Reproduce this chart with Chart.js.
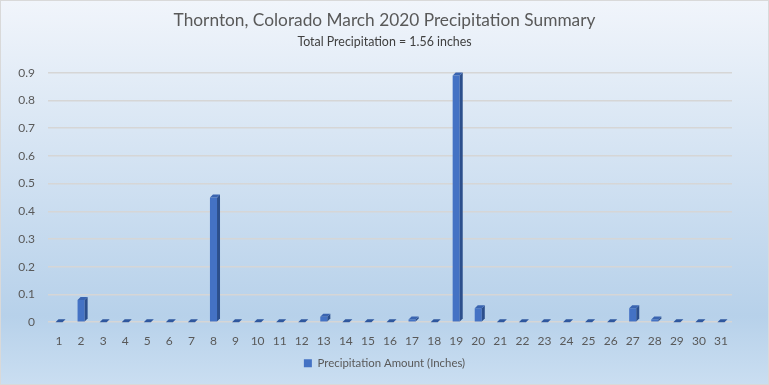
<!DOCTYPE html>
<html>
<head>
<meta charset="utf-8">
<script src="https://cdn.jsdelivr.net/npm/chart.js@4.4.0/dist/chart.umd.min.js"></script>
<style>
html,body{margin:0;padding:0;background:#fff;}
#wrap{width:769px;height:385px;position:relative;}
</style>
</head>
<body>
<div id="wrap"><canvas id="c" width="769" height="385"></canvas></div>
<script>
const days = ["1","2","3","4","5","6","7","8","9","10","11","12","13","14","15","16","17","18","19","20","21","22","23","24","25","26","27","28","29","30","31"];
const precipitation = [0,0.08,0,0,0,0,0,0.45,0,0,0,0,0.02,0,0,0,0.01,0,0.89,0.05,0,0,0,0,0,0,0.05,0.01,0,0,0];
const seriesName = "Precipitation Amount (Inches)";
const titleText = "Thornton, Colorado March 2020 Precipitation Summary";
const subtitleText = "Total Precipitation = 1.56 inches";

const bgPlugin = {
  id: 'bg',
  beforeDraw(chart) {
    const ctx = chart.ctx;
    const w = chart.width, h = chart.height;
    const g = ctx.createLinearGradient(0, 0, 0, h);
    g.addColorStop(0, '#f1f5fb');
    g.addColorStop(0.82, '#b7d1ea');
    g.addColorStop(1, '#cadef1');
    ctx.save();
    ctx.fillStyle = g;
    ctx.fillRect(0, 0, w, h);
    ctx.strokeStyle = '#d9d9d9';
    ctx.lineWidth = 1;
    ctx.strokeRect(0.5, 0.5, w - 1, h - 1);
    ctx.restore();
  }
};

const bar3d = {
  id: 'bar3d',
  afterDatasetsDraw(chart) {
    const ctx = chart.ctx;
    const meta = chart.getDatasetMeta(0);
    const d = 3;
    ctx.save();
    meta.data.forEach(el => {
      const p = el.getProps(['x','y','base','width'], true);
      const l = p.x - p.width / 2, r = p.x + p.width / 2;
      const top = Math.min(p.y, p.base), bot = p.base;
      if (bot - top > 0.5) {
        ctx.fillStyle = '#2c4f8c';
        ctx.beginPath();
        ctx.moveTo(r, bot);
        ctx.lineTo(r + d, bot - d);
        ctx.lineTo(r + d, top - d);
        ctx.lineTo(r, top);
        ctx.closePath();
        ctx.fill();
      }
      ctx.fillStyle = bot - top > 0.5 ? '#3a64b0' : '#2f579e';
      ctx.beginPath();
      ctx.moveTo(l, top);
      ctx.lineTo(l + d, top - d);
      ctx.lineTo(r + d, top - d);
      ctx.lineTo(r, top);
      ctx.closePath();
      ctx.fill();
    });
    ctx.restore();
  }
};

new Chart(document.getElementById('c'), {
  type: 'bar',
  data: {
    labels: days,
    datasets: [{
      label: seriesName,
      data: precipitation,
      backgroundColor: '#4472c4',
      borderWidth: 0,
      categoryPercentage: 1,
      barPercentage: 0.32
    }]
  },
  options: {
    responsive: false,
    animation: false,
    layout: { padding: { left: 0, right: 0, top: 0, bottom: 6 } },
    plugins: {
      title: {
        display: true,
        text: titleText,
        color: '#595959',
        font: { family: 'Lato', size: 17.3, weight: 'normal' },
        padding: { top: 10, bottom: 4 }
      },
      subtitle: {
        display: true,
        text: subtitleText,
        color: '#404040',
        font: { family: 'Lato', size: 12.4, weight: 'normal' },
        padding: { top: 0, bottom: 23 }
      },
      legend: {
        position: 'bottom',
        labels: {
          color: '#595959',
          font: { family: 'Lato', size: 11.4 },
          boxWidth: 8,
          boxHeight: 8,
          padding: 5
        }
      },
      tooltip: { enabled: false }
    },
    scales: {
      x: {
        grid: { display: false },
        border: { display: false },
        ticks: { color: '#595959', font: { family: 'Lato', size: 12 }, padding: 4, maxRotation: 0, autoSkip: false }
      },
      y: {
        min: 0,
        max: 0.9,
        afterFit(scale) { scale.width = 48; },
        grid: { color: '#d6d6d6', lineWidth: 1.5, drawTicks: false },
        border: { display: false },
        ticks: { stepSize: 0.1, color: '#595959', font: { family: 'Lato', size: 12 }, padding: 13 }
      },
      yR: {
        position: 'right',
        display: true,
        min: 0,
        max: 0.9,
        afterFit(scale) { scale.width = 37; },
        grid: { display: false },
        border: { display: false },
        ticks: { display: false }
      }
    }
  },
  plugins: [bgPlugin, bar3d]
});
</script>
</body>
</html>
